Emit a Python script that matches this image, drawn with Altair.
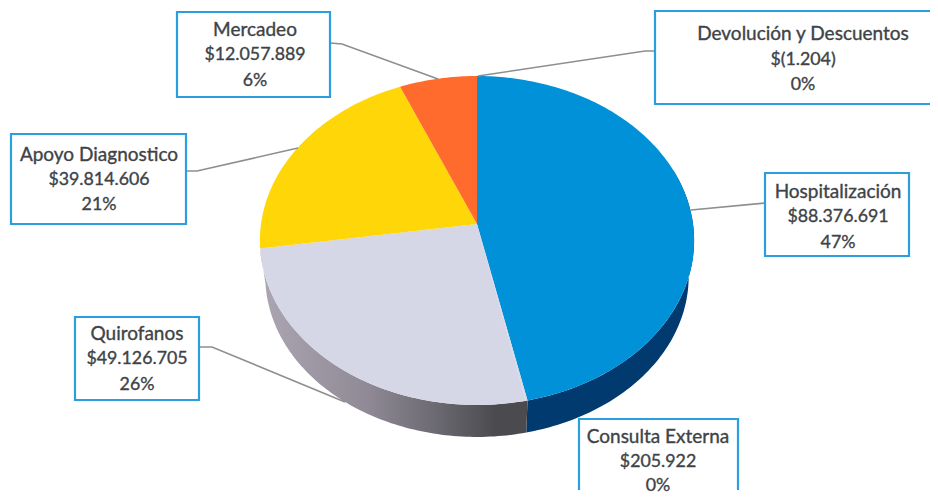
import math
import altair as alt

# ---- values ----
categories = ["Hospitalización", "Consulta Externa", "Quirofanos", "Apoyo Diagnostico", "Mercadeo", "Devolución y Descuentos"]
values = [88376691, 205922, 49126705, 39814606, 12057889, -1204]
value_labels = ["$88.376.691", "$205.922", "$49.126.705", "$39.814.606", "$12.057.889", "$(1.204)"]
pct_labels = ["47%", "0%", "26%", "21%", "6%", "0%"]

# ---- styles ----
top_colors = ["#0091D9", "#D6D7E6", "#D6D7E6", "#FFD608", "#FF6B2C", "#FF6B2C"]
TEXT = "#3E4347"
BOX = "#2B9FDE"
LEADER = "#8E8E8E"
FONT = "Lato"
line_sizes = (19, 17.8, 17.8)

# ---- layout (page pixels) ----
W, H = 922, 482
OFF = 8
boxes = {
    "Hospitalización": (765, 173, 909, 256),
    "Consulta Externa": (579, 419, 738, 520),
    "Quirofanos": (75, 317, 199, 400),
    "Apoyo Diagnostico": (11, 134, 186, 224),
    "Mercadeo": (177, 12, 330, 97),
    "Devolución y Descuentos": (655, 11, 960, 104),
}
line_y = {
    "Hospitalización": (192, 217, 243),
    "Consulta Externa": (437, 462, 486),
    "Quirofanos": (334, 359, 385),
    "Apoyo Diagnostico": (155, 180, 205),
    "Mercadeo": (30, 55, 81),
    "Devolución y Descuentos": (34, 60, 85),
}
text_x = {
    "Hospitalización": 838, "Consulta Externa": 658, "Quirofanos": 137,
    "Apoyo Diagnostico": 99, "Mercadeo": 255, "Devolución y Descuentos": 803,
}
leaders = {
    "Hospitalización": [(765, 203), (691, 210)],
    "Quirofanos": [(199, 347), (212, 347), (345, 402)],
    "Apoyo Diagnostico": [(186, 171), (197, 171), (298, 148)],
    "Mercadeo": [(330, 43), (342, 44), (438, 79)],
    "Devolución y Descuentos": [(655, 51), (645, 51), (478, 76)],
}

# ---- pie geometry: angles come from the values, circle seen in perspective ----
CX, CY, B, A, P = 477, 224, 216, 162.8, 0.1003
DEPTH_SCALE, DEPTH_SHIFT = 0.975, 36.5


def rim(theta_deg, lower=False):
    t = math.radians(theta_deg)
    u, v = math.sin(t), -math.cos(t)
    x = B * u / (1 - P * v)
    y = A * v / (1 - P * v)
    if lower:
        return [CX + x * DEPTH_SCALE - OFF, CY + y * DEPTH_SCALE + DEPTH_SHIFT - OFF]
    return [CX + x - OFF, CY + y - OFF]


def arc(a0, a1, lower=False):
    n = max(2, int(abs(a1 - a0)) + 1)
    return [rim(a0 + (a1 - a0) * i / n, lower) for i in range(n + 1)]


def feature(ring):
    return {"type": "Feature", "properties": {}, "geometry": {"type": "Polygon", "coordinates": [ring + [ring[0]]]}}


total = sum(max(v, 0) for v in values)
edges = [0.0]
for v in values:
    edges.append(edges[-1] + max(v, 0) / total * 360)

proj = alt.Projection(type="identity", scale=1, translate=[0, 0], reflectY=False)
layers = []


def add_shape(ring, fill):
    layers.append(
        alt.Chart(alt.Data(values=[feature(ring)]))
        .mark_geoshape(fill=fill, stroke=None, strokeWidth=0)
        .project(**proj.to_dict())
    )


# side walls
add_shape(arc(70, edges[1]) + arc(edges[1], 70, True), "#003A6F")
gray_grad = alt.LinearGradient(
    gradient="linear", x1=0, y1=0, x2=1, y2=0,
    stops=[
        alt.GradientStop(color="#ABA6B2", offset=0),
        alt.GradientStop(color="#8F8A96", offset=0.4),
        alt.GradientStop(color="#6C6A72", offset=0.65),
        alt.GradientStop(color="#4B4B4F", offset=0.88),
        alt.GradientStop(color="#4B4B4F", offset=1),
    ],
)
add_shape(arc(edges[1], edges[3]) + arc(edges[3], edges[1], True), gray_grad)

# top faces
centre = [CX - OFF, CY - OFF]
for i, name in enumerate(categories):
    if values[i] > 0:
        add_shape([centre] + arc(edges[i], edges[i + 1]), top_colors[i])

# scales in page pixels
xs = alt.Scale(domain=[OFF, OFF + W], range=[0, W], nice=False, zero=False)
ys = alt.Scale(domain=[OFF, OFF + H], range=[0, H], nice=False, zero=False)

# leaders
rows = []
for name, pts in leaders.items():
    for k, (x, y) in enumerate(pts):
        rows.append({"name": name, "k": k, "x": x, "y": y})
layers.append(
    alt.Chart(alt.Data(values=rows))
    .mark_line(color=LEADER, strokeWidth=1.6, clip=False)
    .encode(
        x=alt.X("x:Q", scale=xs, axis=None),
        y=alt.Y("y:Q", scale=ys, axis=None),
        detail="name:N",
        order="k:Q",
    )
)

# boxes
box_rows = [{"x": b[0], "y": b[1], "x2": b[2], "y2": b[3]} for b in boxes.values()]
layers.append(
    alt.Chart(alt.Data(values=box_rows))
    .mark_rect(fill="white", stroke=BOX, strokeWidth=2.2, clip=True)
    .encode(
        x=alt.X("x:Q", scale=xs, axis=None),
        x2="x2:Q",
        y=alt.Y("y:Q", scale=ys, axis=None),
        y2="y2:Q",
    )
)

# labels
text_rows = []
for i, name in enumerate(categories):
    for y, t, s in zip(line_y[name], (name, value_labels[i], pct_labels[i]), line_sizes):
        text_rows.append({"x": text_x[name], "y": y, "t": t, "s": s})
layers.append(
    alt.Chart(alt.Data(values=text_rows))
    .mark_text(font=FONT, color=TEXT, stroke=TEXT, strokeWidth=0.35,
               align="center", baseline="middle")
    .encode(
        x=alt.X("x:Q", scale=xs, axis=None),
        y=alt.Y("y:Q", scale=ys, axis=None),
        size=alt.Size("s:Q", scale=None, legend=None),
        text="t:N",
    )
)

chart = (
    alt.layer(*layers)
    .properties(width=W, height=H, padding=0, background="white")
    .configure_view(stroke=None)
)
chart.save("out.html", embed_options={"renderer": "svg", "actions": False})
